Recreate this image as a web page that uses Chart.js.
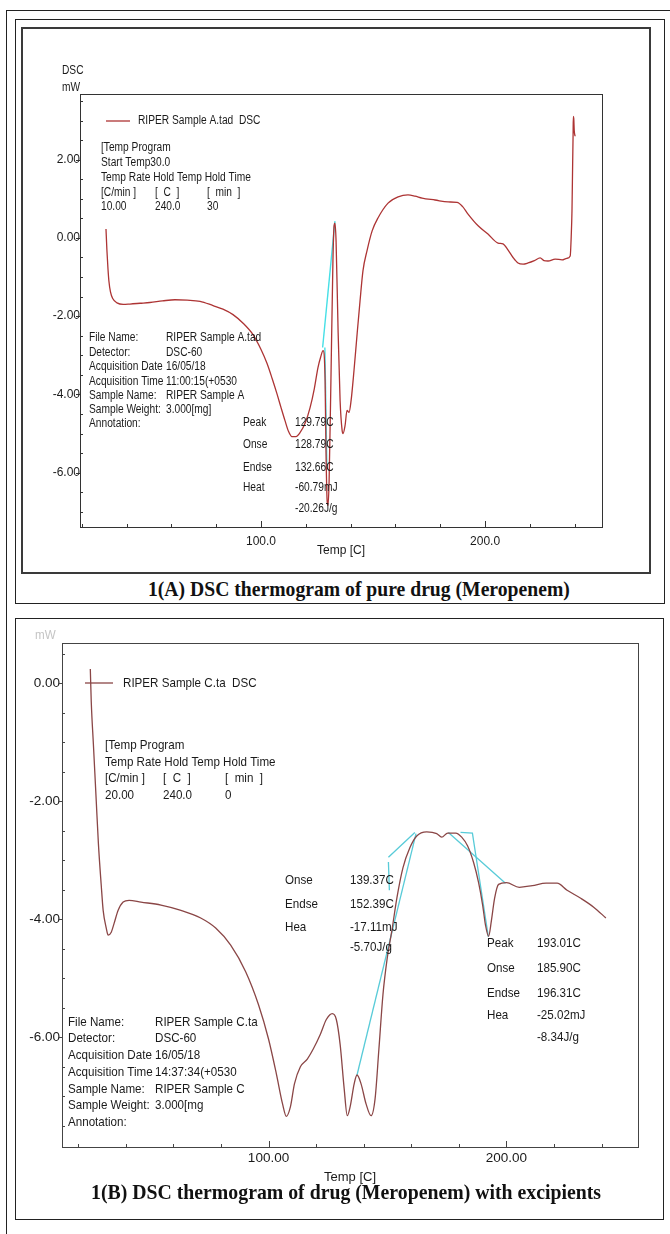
<!DOCTYPE html>
<html>
<head>
<meta charset="utf-8">
<script src="https://cdn.jsdelivr.net/npm/chart.js@4.4.1/dist/chart.umd.min.js"></script>
<style>
  body { margin: 0; background: #fff; width: 670px; height: 1234px; position: relative; overflow: hidden; }
  .box { position: absolute; border: 1px solid #222; box-sizing: border-box; }
  canvas { position: absolute; }
  .cap { position: absolute; font-family: 'Liberation Serif', 'Times New Roman', serif; font-weight: bold;
         font-size: 21px; line-height: 24px; color: #111; white-space: nowrap; transform-origin: left top; }
</style>
</head>
<body>
<div class="box" style="left:6px;top:10px;width:720px;height:1300px;"></div>
<div class="box" style="left:15px;top:19px;width:650px;height:585px;"></div>
<div class="box" style="left:21px;top:27px;width:630px;height:547px;border:2px solid #3a3a3a;"></div>
<canvas id="chartA" width="627" height="544" style="left:22px;top:28px"></canvas>
<div class="cap" id="capA" style="left:148px;top:577px;">1(A) DSC thermogram of pure drug (Meropenem)</div>

<div class="box" style="left:15px;top:618px;width:649px;height:602px;"></div>
<canvas id="chartB" width="647" height="580" style="left:16px;top:619px"></canvas>
<div class="cap" id="capB" style="left:91px;top:1180px;">1(B) DSC thermogram of drug (Meropenem) with excipients</div>

<script>
(function () {

    //------------------------- 1(A) pure drug -------------------------
    var tempA = [30.8, 31.2, 31.7, 32.1, 32.8, 33.8, 35.7, 38.5, 41.5, 46.0, 50.4, 56.0, 61.6, 67.0, 72.8, 78.6,
        83.0, 87.5, 92.0, 96.4, 100.0, 102.7, 105.0, 107.1, 109.0, 110.7, 112.3, 113.8, 115.6, 117.4, 119.8, 121.9,
        123.8, 125.4, 126.6, 127.7, 128.6, 129.0, 129.5, 129.9, 130.4, 131.2, 132.1, 132.6, 133.0, 133.5, 134.4, 135.3,
        136.2, 136.6, 137.5, 138.4, 139.3, 140.2, 141.5, 142.9, 144.2, 145.5, 147.3, 149.6, 152.2, 156.7, 161.2, 165.6,
        168.7, 171.9, 177.7, 183.5, 187.5, 190.0, 192.4, 196.9, 201.3, 205.8, 208.0, 210.3, 212.5, 214.7, 217.0, 219.2,
        222.0, 224.6, 226.3, 228.1, 231.3, 234.4, 236.5, 238.0, 238.5, 238.8, 239.1, 239.3, 239.4, 239.6, 239.8, 240.2];
    var dscA = [0.23, -0.30, -0.80, -1.10, -1.38, -1.55, -1.66, -1.70, -1.69, -1.67, -1.65, -1.61, -1.58, -1.59, -1.62, -1.73,
        -1.82, -1.96, -2.18, -2.47, -2.85, -3.21, -3.60, -3.98, -4.35, -4.67, -4.95, -5.08, -5.08, -4.98, -4.72, -4.34,
        -3.85, -3.32, -3.05, -2.88, -3.65, -5.43, -6.71, -6.84, -6.20, -3.65, -0.59, 0.31, 0.38, -0.08, -2.37, -4.16,
        -4.92, -5.00, -4.80, -4.41, -4.46, -4.16, -3.39, -2.45, -1.61, -0.84, -0.33, 0.18, 0.51, 0.89, 1.05, 1.10,
        1.07, 1.02, 0.97, 0.92, 0.91, 0.80, 0.61, 0.31, 0.10, -0.13, -0.15, -0.31, -0.50, -0.64, -0.67, -0.64,
        -0.58, -0.51, -0.58, -0.59, -0.54, -0.56, -0.52, -0.46, 0.10, 0.69, 1.90, 2.65, 3.11, 3.05, 2.75, 2.60];
    // tangent / onset construction lines (cyan)
    var tangentTempA = [127.5, 133.0];
    var tangentDscA = [-2.80, 0.43];
    var dropTempA = [128.5, 129.4];
    var dropDscA = [-2.80, -5.90];

    var xMajorA = [100, 200];
    var xLabelsA = ['100.0', '200.0'];
    var yMajorA = [2, 0, -2, -4, -6];
    var yLabelsA = ['2.00', '0.00', '-2.00', '-4.00', '-6.00'];

    //------------------------- 1(B) with excipients -------------------------
    var tempB = [25.1, 25.5, 26.4, 27.6, 28.5, 29.7, 30.5, 31.8, 32.6, 33.9, 35.1, 36.8, 38.9, 41.4, 46.4, 54.8,
        63.2, 71.5, 77.8, 84.1, 90.4, 95.8, 100.0, 103.3, 105.9, 107.5, 109.2, 110.9, 113.4, 116.3, 118.8, 121.8,
        124.3, 126.8, 128.5, 130.1, 131.8, 133.1, 134.3, 136.0, 137.2, 138.9, 141.0, 143.1, 144.8, 146.4, 148.1, 149.8,
        151.9, 154.0, 156.5, 159.4, 162.3, 166.5, 170.7, 172.8, 175.3, 178.7, 181.2, 183.7, 186.2, 188.3, 190.0, 191.2,
        192.5, 193.7, 195.0, 196.7, 200.0, 205.4, 210.9, 216.7, 221.3, 225.5, 231.4, 236.8, 241.8];
    var dscB = [0.24, -0.32, -1.04, -2.00, -2.72, -3.43, -3.85, -4.15, -4.27, -4.22, -4.07, -3.85, -3.71, -3.68, -3.71, -3.76,
        -3.85, -3.98, -4.15, -4.44, -4.89, -5.45, -6.03, -6.62, -7.13, -7.34, -7.18, -6.79, -6.50, -6.37, -6.20, -5.95,
        -5.70, -5.60, -5.70, -6.12, -6.87, -7.33, -7.18, -6.79, -6.64, -6.79, -7.13, -7.33, -7.04, -6.20, -5.28, -4.69,
        -4.18, -3.63, -3.13, -2.79, -2.59, -2.52, -2.55, -2.61, -2.54, -2.54, -2.61, -2.76, -3.04, -3.38, -3.76, -4.10,
        -4.29, -4.02, -3.65, -3.41, -3.38, -3.46, -3.43, -3.39, -3.39, -3.51, -3.65, -3.80, -3.98];
    var tangentTempB = [137.2, 162.0];
    var tangentDscB = [-6.64, -2.55];
    var baseTempB = [150.4, 161.5];
    var baseDscB = [-2.95, -2.53];
    var markTempB = [150.4, 150.8];
    var markDscB = [-3.03, -3.51];
    var peakBaseTempB = [175.6, 199.6];
    var peakBaseDscB = [-2.53, -3.39];
    var peakTanTempB = [180.7, 185.7, 192.4];
    var peakTanDscB = [-2.53, -2.54, -4.30];

    var xMajorB = [100, 200];
    var xLabelsB = ['100.00', '200.00'];
    var yMajorB = [0, -2, -4, -6];
    var yLabelsB = ['0.00', '-2.00', '-4.00', '-6.00'];

    var SANS = "'Liberation Sans', Arial, sans-serif";

    function pts(t, v) {
        return t.map(function (x, i) { return { x: x, y: v[i] }; });
    }

    function lineSet(label, t, v, color, width, smooth) {
        return {
            label: label,
            data: pts(t, v),
            borderColor: color,
            borderWidth: width,
            pointRadius: 0,
            fill: false,
            tension: 0,
            cubicInterpolationMode: smooth ? 'monotone' : 'default'
        };
    }

    // ticks every `step`, only majors get a label
    function stepTicks(step) {
        return function (scale) {
            var list = [];
            for (var v = Math.ceil(scale.min / step) * step; v <= scale.max + 1e-9; v += step) {
                list.push({ value: v });
            }
            scale.ticks = list;
        };
    }
    function labelFor(majors, labels) {
        return function (value) {
            for (var i = 0; i < majors.length; i++) {
                if (Math.abs(value - majors[i]) < 1e-6) return labels[i];
            }
            return '';
        };
    }

    // instrument print-outs use a narrow sans; squeeze the text horizontally
    function squeeze(ctx, text, x, y, k) {
        ctx.save();
        ctx.translate(x, y);
        ctx.scale(k, 1);
        ctx.fillText(text, 0, 0);
        ctx.restore();
    }

    // frame, inner tick marks, legend and the instrument text blocks
    function overlay(o) {
        return {
            id: 'overlay',
            afterDraw: function (chart) {
                var ctx = chart.ctx, a = chart.chartArea;
                ctx.save();
                ctx.strokeStyle = o.frame;
                ctx.lineWidth = 1;
                ctx.strokeRect(Math.round(a.left) + 0.5, Math.round(a.top) + 0.5,
                    Math.round(a.right - a.left), Math.round(a.bottom - a.top));

                ctx.beginPath();
                var xs = chart.scales.x, ys = chart.scales.y;
                xs.ticks.forEach(function (t) {
                    var p = Math.round(xs.getPixelForValue(t.value)) + 0.5;
                    var len = t.label ? 6 : 3;
                    ctx.moveTo(p, a.bottom);
                    ctx.lineTo(p, a.bottom - len);
                });
                ys.ticks.forEach(function (t) {
                    var p = Math.round(ys.getPixelForValue(t.value)) + 0.5;
                    if (t.label) {
                        ctx.moveTo(a.left - 4, p);
                        ctx.lineTo(a.left, p);
                    } else {
                        ctx.moveTo(a.left, p);
                        ctx.lineTo(a.left + 3, p);
                    }
                });
                ctx.stroke();

                // legend
                var ds = chart.data.datasets[0];
                ctx.strokeStyle = ds.borderColor;
                ctx.lineWidth = 1.3;
                ctx.beginPath();
                ctx.moveTo(o.legend[0], o.legend[2]);
                ctx.lineTo(o.legend[1], o.legend[2]);
                ctx.stroke();

                ctx.font = o.font;
                ctx.textBaseline = 'middle';
                ctx.textAlign = 'left';
                ctx.fillStyle = '#1a1a1a';
                squeeze(ctx, ds.label, o.legend[3], o.legend[2], o.squeeze);
                o.texts.forEach(function (t) {
                    ctx.fillStyle = t[3] || '#1a1a1a';
                    squeeze(ctx, t[2], t[0], t[1], o.squeeze);
                });
                ctx.restore();
            }
        };
    }

    function buildOptions(s) {
        return {
            responsive: false,
            animation: false,
            devicePixelRatio: 1,
            layout: { padding: s.padding },
            plugins: { legend: { display: false }, tooltip: { enabled: false } },
            scales: {
                x: {
                    type: 'linear', min: s.xMin, max: s.xMax,
                    afterBuildTicks: stepTicks(20),
                    afterFit: function (sc) { sc.height = s.xHeight; },
                    grid: { display: false, drawTicks: false },
                    border: { color: s.axis, width: 1 },
                    ticks: { autoSkip: false, maxRotation: 0, padding: s.xPad, color: '#1a1a1a',
                        font: { family: SANS, size: s.tickSize }, callback: labelFor(s.xMajor, s.xLabels) },
                    title: { display: true, text: 'Temp [C]', color: '#1a1a1a',
                        font: { family: SANS, size: s.textSize }, padding: { top: 0, bottom: 14 } }
                },
                y: {
                    type: 'linear', min: s.yMin, max: s.yMax,
                    afterBuildTicks: stepTicks(0.5),
                    afterFit: function (sc) { sc.width = s.yWidth; },
                    grid: { display: false, drawTicks: false },
                    border: { color: s.axis, width: 1 },
                    ticks: { autoSkip: false, padding: s.yPad, color: '#1a1a1a',
                        font: { family: SANS, size: s.tickSize }, callback: labelFor(s.yMajor, s.yLabels) }
                }
            }
        };
    }

    //------------------------- chart A -------------------------
    var optsA = buildOptions({
        padding: { top: 66, right: 47, left: 0, bottom: 0 },
        xMin: 19.2, xMax: 252.2, yMin: -7.39, yMax: 3.68,
        xHeight: 45, yWidth: 58, xPad: 7, yPad: 0, tickSize: 12, textSize: 12,
        axis: '#333', xMajor: xMajorA, xLabels: xLabelsA, yMajor: yMajorA, yLabels: yLabelsA
    });
    new Chart(document.getElementById('chartA'), {
        type: 'line',
        data: {
            datasets: [
                lineSet('RIPER Sample A.tad  DSC', tempA, dscA, '#ad3434', 1.3, true),
                lineSet('tangent', tangentTempA, tangentDscA, '#45dfe6', 1.4, false),
                lineSet('drop', dropTempA, dropDscA, '#45dfe6', 1.4, false)
            ]
        },
        options: optsA,
        plugins: [overlay({
            frame: '#333',
            font: '12px ' + SANS,
            squeeze: 0.85,
            legend: [84, 108, 93, 116],
            texts: [
                [40, 43, 'DSC'], [40, 60, 'mW'],
                [79, 120, '[Temp Program'],
                [79, 135, 'Start Temp30.0'],
                [79, 150, 'Temp Rate Hold Temp Hold Time'],
                [79, 165, '[C/min ]'], [133, 165, '[  C  ]'], [185, 165, '[  min  ]'],
                [79, 179, '10.00'], [133, 179, '240.0'], [185, 179, '30'],
                [67, 310, 'File Name:'], [144, 310, 'RIPER Sample A.tad'],
                [67, 325, 'Detector:'], [144, 325, 'DSC-60'],
                [67, 339, 'Acquisition Date'], [144, 339, '16/05/18'],
                [67, 354, 'Acquisition Time'], [144, 354, '11:00:15(+0530'],
                [67, 368, 'Sample Name:'], [144, 368, 'RIPER Sample A'],
                [67, 382, 'Sample Weight:'], [144, 382, '3.000[mg]'],
                [67, 396, 'Annotation:'],
                [221, 395, 'Peak'], [273, 395, '129.79C'],
                [221, 417, 'Onse'], [273, 417, '128.79C'],
                [221, 440, 'Endse'], [273, 440, '132.66C'],
                [221, 460, 'Heat'], [273, 460, '-60.79mJ'],
                [273, 481, '-20.26J/g']
            ]
        })]
    });

    //------------------------- chart B -------------------------
    var optsB = buildOptions({
        padding: { top: 24, right: 25, left: 0, bottom: 0 },
        xMin: 13.2, xMax: 255.3, yMin: -7.86, yMax: 0.68,
        xHeight: 52, yWidth: 46, xPad: 3, yPad: 2, tickSize: 13.5, textSize: 13,
        axis: '#444', xMajor: xMajorB, xLabels: xLabelsB, yMajor: yMajorB, yLabels: yLabelsB
    });
    new Chart(document.getElementById('chartB'), {
        type: 'line',
        data: {
            datasets: [
                lineSet('RIPER Sample C.ta  DSC', tempB, dscB, '#8a4646', 1.3, true),
                lineSet('tangent', tangentTempB, tangentDscB, '#58cbd8', 1.3, false),
                lineSet('base', baseTempB, baseDscB, '#58cbd8', 1.3, false),
                lineSet('mark', markTempB, markDscB, '#58cbd8', 1.3, false),
                lineSet('peak base', peakBaseTempB, peakBaseDscB, '#58cbd8', 1.3, false),
                lineSet('peak tangent', peakTanTempB, peakTanDscB, '#58cbd8', 1.3, false)
            ]
        },
        options: optsB,
        plugins: [overlay({
            frame: '#444',
            font: '13.5px ' + SANS,
            squeeze: 0.86,
            legend: [69, 97, 64, 107],
            texts: [
                [19, 16, 'mW', '#c4c4c4'],
                [89, 126, '[Temp Program'],
                [89, 143, 'Temp Rate Hold Temp Hold Time'],
                [89, 159, '[C/min ]'], [147, 159, '[  C  ]'], [209, 159, '[  min  ]'],
                [89, 176, '20.00'], [147, 176, '240.0'], [209, 176, '0'],
                [269, 261, 'Onse'], [334, 261, '139.37C'],
                [269, 285, 'Endse'], [334, 285, '152.39C'],
                [269, 308, 'Hea'], [334, 308, '-17.11mJ'],
                [334, 328, '-5.70J/g'],
                [471, 324, 'Peak'], [521, 324, '193.01C'],
                [471, 349, 'Onse'], [521, 349, '185.90C'],
                [471, 374, 'Endse'], [521, 374, '196.31C'],
                [471, 396, 'Hea'], [521, 396, '-25.02mJ'],
                [521, 418, '-8.34J/g'],
                [52, 403, 'File Name:'], [139, 403, 'RIPER Sample C.ta'],
                [52, 419, 'Detector:'], [139, 419, 'DSC-60'],
                [52, 436, 'Acquisition Date'], [139, 436, '16/05/18'],
                [52, 453, 'Acquisition Time'], [139, 453, '14:37:34(+0530'],
                [52, 470, 'Sample Name:'], [139, 470, 'RIPER Sample C'],
                [52, 486, 'Sample Weight:'], [139, 486, '3.000[mg'],
                [52, 503, 'Annotation:']
            ]
        })]
    });

    // captions: squeeze to the printed width
    function fitCaption(id, width) {
        var el = document.getElementById(id);
        var w = el.getBoundingClientRect().width;
        el.style.transform = 'scaleX(' + (width / w).toFixed(3) + ')';
    }
    fitCaption('capA', 422);
    fitCaption('capB', 510);

})();
</script>
</body>
</html>
